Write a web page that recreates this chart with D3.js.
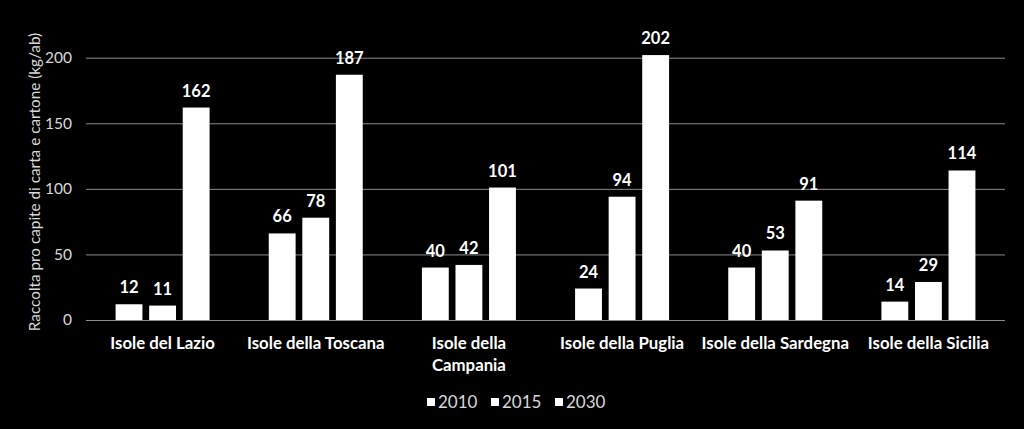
<!DOCTYPE html>
<html><head><meta charset="utf-8">
<script src="https://cdn.jsdelivr.net/npm/d3@7"></script>
<style>
html,body{margin:0;padding:0;background:#000;}
svg{display:block;}
</style></head>
<body>
<script>
const categories = ["Isole del Lazio", "Isole della Toscana", "Isole della\nCampania", "Isole della Puglia", "Isole della Sardegna", "Isole della Sicilia"];
const seriesNames = ["2010", "2015", "2030"];
const values2010 = [12, 66, 40, 24, 40, 14];
const values2015 = [11, 78, 42, 94, 53, 29];
const values2030 = [162, 187, 101, 202, 91, 114];
const yTicks = [0, 50, 100, 150, 200];
const yTitle = "Raccolta pro capite di carta e cartone (kg/ab)";

const seriesValues = [values2010, values2015, values2030];
const W = 1024, H = 429;
const mLeft = 86, mRight = 1005, mTop = 57.7, mBottom = 320;
const font = "Lato, 'Open Sans', sans-serif";

const svg = d3.select("body").append("svg").attr("width", W).attr("height", H)
  .style("background", "#000");

const x0 = d3.scaleBand().domain(categories).range([mLeft, mRight]).padding(0);
const gw = 94;
const x1 = d3.scaleBand().domain(seriesNames)
  .range([(x0.bandwidth() - gw) / 2, (x0.bandwidth() + gw) / 2]).paddingInner(0.2).paddingOuter(0);
const y = d3.scaleLinear().domain([0, 200]).range([mBottom, mTop]);

// gridlines
svg.append("g").selectAll("line").data(yTicks).join("line")
  .attr("x1", mLeft).attr("x2", mRight)
  .attr("y1", d => y(d) + 0.5).attr("y2", d => y(d) + 0.5)
  .attr("stroke", "#8c8c8c").attr("stroke-width", 1);

// y axis labels
const yAxis = d3.axisLeft(y).tickValues(yTicks).tickSize(0).tickPadding(0);
const ya = svg.append("g").attr("transform", `translate(${mLeft - 14},0)`).call(yAxis);
ya.select(".domain").remove();
ya.selectAll("text").attr("fill", "#d9d9d9").style("font-family", font).style("font-size", "15.5px");

// y title
svg.append("text")
  .attr("transform", `translate(${40},${182}) rotate(-90)`)
  .attr("text-anchor", "middle").attr("fill", "#d9d9d9")
  .style("font-family", font).style("font-size", "15.3px")
  .text(yTitle);

// bars
const groups = svg.append("g").selectAll("g").data(categories).join("g")
  .attr("transform", d => `translate(${x0(d)},0)`);

groups.each(function(cat, ci) {
  const g = d3.select(this);
  const data = seriesNames.map((s, si) => ({ s, v: seriesValues[si][ci] }));
  g.selectAll("rect").data(data).join("rect")
    .attr("x", d => x1(d.s)).attr("width", x1.bandwidth())
    .attr("y", d => y(d.v)).attr("height", d => y(0) - y(d.v))
    .attr("fill", "#ffffff");
  g.selectAll("text.val").data(data).join("text").attr("class", "val")
    .attr("x", d => x1(d.s) + x1.bandwidth() / 2)
    .attr("y", d => y(d.v) - 11)
    .attr("text-anchor", "middle").attr("fill", "#ffffff")
    .style("font-family", font).style("font-weight", "bold").style("font-size", "16.5px")
    .text(d => d.v);
});

// category labels
const cl = svg.append("g").selectAll("text").data(categories).join("text")
  .attr("x", d => x0(d) + x0.bandwidth() / 2)
  .attr("y", 349)
  .attr("text-anchor", "middle").attr("fill", "#ffffff")
  .style("font-family", font).style("font-weight", "bold").style("font-size", "16.8px");
cl.each(function(d) {
  const lines = d.split("\n");
  d3.select(this).selectAll("tspan").data(lines).join("tspan")
    .attr("x", x0(d) + x0.bandwidth() / 2)
    .attr("dy", (l, i) => i === 0 ? 0 : 22)
    .text(l => l);
});

// legend
const legendX = [427, 491, 555];
const lg = svg.append("g").selectAll("g").data(seriesNames).join("g")
  .attr("transform", (d, i) => `translate(${legendX[i]},${402})`);
lg.append("rect").attr("x", 0).attr("y", -4).attr("width", 8).attr("height", 8).attr("fill", "#ffffff");
lg.append("text").attr("x", 11).attr("y", 6).attr("fill", "#d9d9d9")
  .style("font-family", font).style("font-size", "17px").text(d => d);
</script>
</body></html>
